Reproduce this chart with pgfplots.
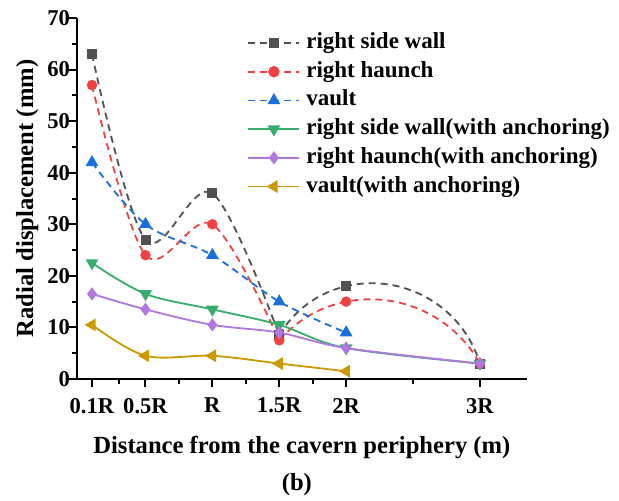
\documentclass[border=0pt]{standalone}
\usepackage{fontspec}
\setmainfont{Liberation Serif}
\usepackage{pgfplots}
\pgfplotsset{compat=1.18}
\usetikzlibrary{hobby}

\definecolor{cgray}{HTML}{515151}
\definecolor{cred}{HTML}{F14040}
\definecolor{cblue}{HTML}{1A6FDF}
\definecolor{cgreen}{HTML}{37AD6B}
\definecolor{cpurple}{HTML}{B177DE}
\definecolor{cgold}{HTML}{CC9900}

\pgfplotsset{
  dashline/.style={dash pattern=on 3.5pt off 2.5pt, line width=0.9pt, mark options={solid}},
  dashser/.style={smooth, tension=0.55, dashline},
  solidser/.style={smooth, tension=0.55, solid, line width=0.9pt},
}

% measured values
\pgfplotstableread{
x    wall  haunch
0.1  63    57
0.5  27    24
1    36    30
1.5  8.5   7.5
2    18    15
3    3     3
}\unanchored

\begin{document}
\begin{tikzpicture}
\path[use as bounding box] (-38.5pt,-61pt) rectangle (271pt,189.5pt);
\begin{axis}[
  scale only axis, width=224.85pt, height=180.5pt,
  xmin=-0.012, xmax=3.35, ymin=0, ymax=70,
  axis lines*=left, axis line style={-, line width=1.2pt, black},
  tick align=outside, tick pos=left,
  major tick length=4pt, minor tick length=2.5pt,
  every tick/.style={black, line width=1pt},
  xtick={0.1,0.5,1,1.5,2,3},
  xticklabels={0.1R,0.5R,R,1.5R,2R,3R},
  minor xtick={0.3,0.75,1.25,1.75,2.5},
  ytick={0,10,...,70},
  minor ytick={5,15,...,65},
  /pgf/number format/assume math mode=true,
  tick label style={font=\fontsize{11.3}{13}\selectfont\bfseries},
  yticklabel style={xshift=4pt},
  xticklabel style={yshift=-2pt},
  xlabel={Distance from the cavern periphery (m)},
  ylabel={Radial displacement (mm)},
  label style={font=\fontsize{12.3}{14}\selectfont\bfseries},
  xlabel style={at={(axis description cs:0.5,-0.207)}, anchor=base},
  ylabel style={at={(axis description cs:-0.0978,0.5)}, anchor=base},
  legend cell align=left,
  legend image code/.code={
    \draw[mark repeat=2, mark phase=2, #1] plot coordinates {(0pt,0pt) (12.75pt,0pt) (25.5pt,0pt)};
  },
  legend style={at={(axis description cs:0.365,0.972)}, anchor=north west,
    draw=none, fill=none, font=\fontsize{11.5}{13}\selectfont\bfseries,
    row sep=3.85pt, column sep=3pt,
    nodes={inner sep=0pt, text height=8pt, text depth=2.5pt}},
  clip=false,
]
% legend entries
\addlegendimage{cgray, dashline, mark=square*, mark size=2.25pt}
\addlegendentry{right side wall}
\addlegendimage{cred, dashline, mark=*, mark size=2.4pt}
\addlegendentry{right haunch}
\addlegendimage{cblue, dashline, mark=triangle*, mark size=2.8pt}
\addlegendentry{vault}
\addlegendimage{cgreen, solid, line width=0.9pt, mark=triangle*, mark size=2.8pt, mark options={rotate=180}}
\addlegendentry{right side wall(with anchoring)}
\addlegendimage{cpurple, solid, line width=0.9pt, mark=diamond*, mark size=2.6pt}
\addlegendentry{right haunch(with anchoring)}
\addlegendimage{cgold, solid, line width=0.9pt, mark=triangle*, mark size=2.8pt, mark options={rotate=90}}
\addlegendentry{vault(with anchoring)}

% unanchored: smooth spline up to 1.5R, Hobby curve beyond it
\addplot[cgray, dashser, no marks, forget plot]
  table[x=x, y=wall, restrict x to domain=0:1.5] {\unanchored};
\addplot[cgray, dashline, hobby, no marks, forget plot]
  table[x=x, y=wall, restrict x to domain=1.5:3] {\unanchored};
\addplot[cgray, only marks, mark=square*, mark size=2.25pt, forget plot]
  table[x=x, y=wall] {\unanchored};

\addplot[cred, dashser, no marks, forget plot]
  table[x=x, y=haunch, restrict x to domain=0:1.5] {\unanchored};
\addplot[cred, dashline, hobby, no marks, forget plot]
  table[x=x, y=haunch, restrict x to domain=1.5:3] {\unanchored};
\addplot[cred, only marks, mark=*, mark size=2.4pt, forget plot]
  table[x=x, y=haunch] {\unanchored};

\addplot[cblue, dashser, mark=triangle*, mark size=2.8pt, forget plot]
  coordinates {(0.1,42) (0.5,30) (1,24) (1.5,15) (2,9)};

% with anchoring
\addplot[cgreen, solidser, mark=triangle*, mark size=2.8pt, mark options={rotate=180}, forget plot]
  coordinates {(0.1,22.5) (0.5,16.5) (1,13.5) (1.5,10.5) (2,6) (3,3)};
\addplot[cpurple, solidser, mark=diamond*, mark size=2.6pt, forget plot]
  coordinates {(0.1,16.5) (0.5,13.5) (1,10.5) (1.5,9) (2,6) (3,3)};
\addplot[cgold, solidser, mark=triangle*, mark size=2.8pt, mark options={rotate=90}, forget plot]
  coordinates {(0.1,10.5) (0.5,4.5) (1,4.5) (1.5,3) (2,1.5)};

\node[font=\fontsize{12.3}{14}\selectfont\bfseries, anchor=base]
  at (axis description cs:0.489,-0.31) {(b)};
\end{axis}
\end{tikzpicture}
\end{document}
